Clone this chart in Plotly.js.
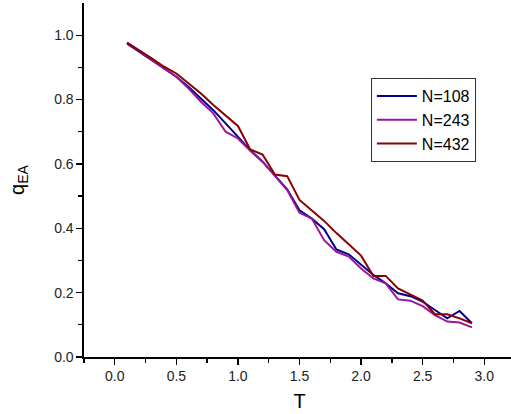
<!DOCTYPE html>
<html>
<head>
<meta charset="utf-8">
<script src="https://cdn.plot.ly/plotly-3.0.1.min.js"></script>
<style>
html, body { margin: 0; padding: 0; overflow: hidden; background: #fff; }
#chart { width: 530px; height: 414px; }
</style>
</head>
<body>
<div id="chart"></div>
<script>
const T = [0.1,0.2,0.3,0.4,0.5,0.6,0.7,0.8,0.9,1.0,1.1,1.2,1.3,1.4,1.5,1.6,1.7,1.8,1.9,2.0,2.1,2.2,2.3,2.4,2.5,2.6,2.7,2.8,2.9];
const q108 = [0.974,0.948,0.922,0.897,0.871,0.839,0.803,0.767,0.726,0.684,0.643,0.607,0.565,0.521,0.456,0.430,0.397,0.334,0.319,0.288,0.255,0.229,0.198,0.189,0.172,0.146,0.120,0.143,0.105];
const q243 = [0.976,0.950,0.925,0.899,0.871,0.834,0.793,0.757,0.700,0.679,0.641,0.607,0.563,0.519,0.448,0.430,0.363,0.327,0.312,0.275,0.244,0.229,0.179,0.175,0.158,0.130,0.110,0.107,0.092];
const q432 = [0.977,0.953,0.928,0.902,0.881,0.850,0.819,0.783,0.752,0.718,0.645,0.629,0.567,0.562,0.488,0.455,0.423,0.385,0.350,0.315,0.252,0.252,0.213,0.195,0.175,0.133,0.133,0.120,0.105];
const seriesNames = ['N=108','N=243','N=432'];
const seriesColors = ['#000090','#9a169a','#8b0000'];

const font = 'Arial, "Liberation Sans", sans-serif';
const ys = [q108, q243, q432];
const data = ys.map((y, i) => ({
  x: T, y: y, type: 'scatter', mode: 'lines', name: seriesNames[i],
  line: {color: seriesColors[i], width: 2}
}));

const layout = {
  width: 530, height: 414,
  margin: {l: 84, r: 15, t: 3, b: 57},
  paper_bgcolor: '#fff', plot_bgcolor: '#fff',
  font: {family: font, color: '#000'},
  showlegend: true,
  legend: {
    x: 0.6656, y: 0.788, xanchor: 'left', yanchor: 'top',
    bordercolor: '#333', borderwidth: 1, bgcolor: '#fff',
    font: {family: font, size: 16, color: '#000'},
    itemwidth: 40,
    tracegroupgap: 0
  },
  xaxis: {
    range: [-0.25, 3.25], tickvals: [0,0.5,1,1.5,2,2.5,3], ticktext: ['0.0','0.5','1.0','1.5','2.0','2.5','3.0'],
    ticks: 'outside', ticklen: 6, tickwidth: 1.3, tickcolor: '#000',
    minor: {tickvals: [-0.25,0.25,0.75,1.25,1.75,2.25,2.75,3.25], ticks: 'outside', ticklen: 4, tickwidth: 1.3, tickcolor: '#000'},
    showline: true, linecolor: '#000', linewidth: 1.6, showgrid: false, zeroline: false,
    tickfont: {family: font, size: 14, color: '#222'},
    title: {text: 'T', font: {family: font, size: 20, color: '#000'}, standoff: 10},
    automargin: false
  },
  yaxis: {
    range: [0, 1.1], tickvals: [0,0.2,0.4,0.6,0.8,1.0], ticktext: ['0.0','0.2','0.4','0.6','0.8','1.0'],
    ticks: 'outside', ticklen: 6, tickwidth: 1.3, tickcolor: '#000',
    minor: {tickvals: [0.1,0.3,0.5,0.7,0.9], ticks: 'outside', ticklen: 4, tickwidth: 1.3, tickcolor: '#000'},
    showline: true, linecolor: '#000', linewidth: 1.6, showgrid: false, zeroline: false,
    tickfont: {family: font, size: 14, color: '#222'},
    title: {text: 'q<sub>EA</sub>', font: {family: font, size: 20, color: '#000'}, standoff: 24},
    automargin: false
  }
};

Plotly.newPlot('chart', data, layout, {displayModeBar: false, staticPlot: true});
</script>
</body>
</html>
